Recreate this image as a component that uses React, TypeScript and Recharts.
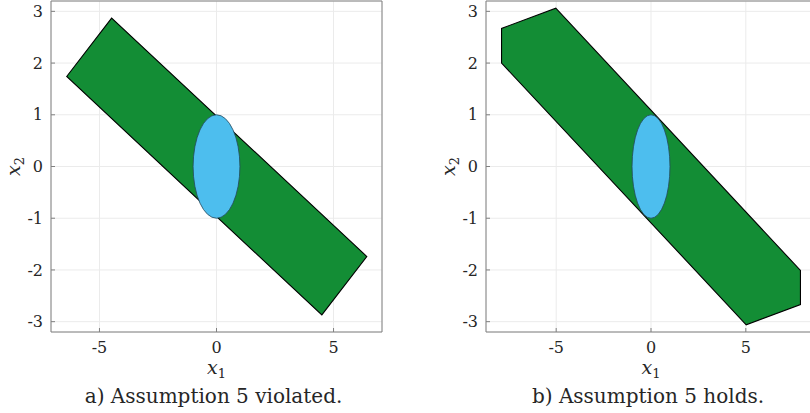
import { ScatterChart, Scatter, XAxis, YAxis, CartesianGrid } from 'recharts';

const xTicks = [-5, 0, 5];
const yTicks = [-3, -2, -1, 0, 1, 2, 3];
const yDomain: [number, number] = [-3.2, 3.2];
const violatedDomain: [number, number] = [-7.07, 7.07];
const holdsDomain: [number, number] = [-8.7, 8.7];

// polytope vertices, panel a (in order around the boundary)
const violatedX = [-6.4, -4.48, 6.42, 4.5];
const violatedY = [1.74, 2.87, -1.74, -2.87];

// polytope vertices, panel b
const holdsX = [-7.88, -7.88, -5.02, 7.88, 7.88, 5.02];
const holdsY = [2.0, 2.67, 3.06, -2.01, -2.67, -3.06];

// unit disc: centre, then the corner of its bounding box
const discX = [0, 1];
const discY = [0, 1];

const captions = ['a) Assumption 5 violated.', 'b) Assumption 5 holds.'];

const toPoints = (xs: number[], ys: number[]) => xs.map((x, i) => ({ x, y: ys[i] }));

const SERIF = "'DejaVu Serif', 'Liberation Serif', serif";
const AXIS = '#808080';
const INK = '#262626';
const GREEN = '#138d35';
const BLUE = '#4dbeee';

const hiddenDot = () => <g />;

const polygonOutline = (props: any) => {
  const pts = (props.points || []).map((p: any) => `${p.x},${p.y}`).join(' ');
  return <polygon points={pts} fill={GREEN} stroke="#000" strokeWidth={1.1} strokeLinejoin="miter" />;
};

const discOutline = (props: any) => {
  const [c, r] = props.points || [];
  if (!c || !r) return <g />;
  return (
    <ellipse
      cx={c.x}
      cy={c.y}
      rx={Math.abs(r.x - c.x)}
      ry={Math.abs(r.y - c.y)}
      fill={BLUE}
      stroke="#24475c"
      strokeWidth={0.8}
    />
  );
};

const textStyle = { fontFamily: SERIF, fill: INK };

const xLabel = (caption: string) => (props: any) => {
  const { x, y, width } = props.viewBox;
  const cx = x + width / 2;
  return (
    <g>
      <text x={cx} y={y + 42} textAnchor="middle" fontSize={19} style={textStyle}>
        <tspan fontStyle="italic">x</tspan>
        <tspan fontSize={13} dy={4}>1</tspan>
      </text>
      <text x={cx - 3} y={y + 71} textAnchor="middle" fontSize={20} style={textStyle}>
        {caption}
      </text>
    </g>
  );
};

const yLabel = (props: any) => {
  const { y, height } = props.viewBox;
  const bx = 20;
  const cy = y + height / 2;
  return (
    <text
      x={bx}
      y={cy}
      transform={`rotate(-90 ${bx} ${cy})`}
      textAnchor="middle"
      fontSize={19}
      style={textStyle}
    >
      <tspan fontStyle="italic">x</tspan>
      <tspan fontSize={13} dy={4}>2</tspan>
    </text>
  );
};

const tickStyle = { fill: INK, fontSize: 16, fontFamily: SERIF, style: { fontFamily: SERIF } };

function Panel({
  left,
  width,
  xDomain,
  region,
  caption,
}: {
  left: number;
  width: number;
  xDomain: [number, number];
  region: { x: number; y: number }[];
  caption: string;
}) {
  return (
    <div style={{ position: 'absolute', left, top: 0, fontFamily: SERIF }}>
      <ScatterChart width={width} height={413} margin={{ top: 0, right: 1, bottom: 0, left: 0 }}>
        <CartesianGrid stroke="#ebebeb" />
        <XAxis
          dataKey="x"
          type="number"
          domain={xDomain}
          ticks={xTicks}
          allowDataOverflow
          height={81}
          tickSize={-4}
          tickMargin={14}
          tick={tickStyle}
          axisLine={{ stroke: AXIS }}
          tickLine={{ stroke: AXIS }}
          label={{ content: xLabel(caption) }}
        />
        <XAxis
          xAxisId="top"
          orientation="top"
          type="number"
          domain={xDomain}
          ticks={xTicks}
          allowDataOverflow
          height={1}
          tickSize={-4}
          tick={false}
          axisLine={{ stroke: AXIS }}
          tickLine={{ stroke: AXIS }}
        />
        <YAxis
          dataKey="y"
          type="number"
          domain={yDomain}
          ticks={yTicks}
          allowDataOverflow
          width={51}
          tickSize={-4}
          tickMargin={12}
          tick={tickStyle}
          axisLine={{ stroke: AXIS }}
          tickLine={{ stroke: AXIS }}
          label={{ content: yLabel }}
        />
        <YAxis
          yAxisId="right"
          orientation="right"
          type="number"
          domain={yDomain}
          ticks={yTicks}
          allowDataOverflow
          width={1}
          tickSize={-4}
          tick={false}
          axisLine={{ stroke: AXIS }}
          tickLine={{ stroke: AXIS }}
        />
        <Scatter data={region} shape={hiddenDot} line={polygonOutline} isAnimationActive={false} />
        <Scatter data={toPoints(discX, discY)} shape={hiddenDot} line={discOutline} isAnimationActive={false} />
      </ScatterChart>
    </div>
  );
}

export default function App() {
  return (
    <div
      style={{
        position: 'absolute',
        left: 0,
        top: 0,
        width: 810,
        height: 413,
        overflow: 'hidden',
        background: '#fff',
      }}
    >
      <Panel left={0} width={384} xDomain={violatedDomain} region={toPoints(violatedX, violatedY)} caption={captions[0]} />
      <Panel left={435} width={383} xDomain={holdsDomain} region={toPoints(holdsX, holdsY)} caption={captions[1]} />
    </div>
  );
}
